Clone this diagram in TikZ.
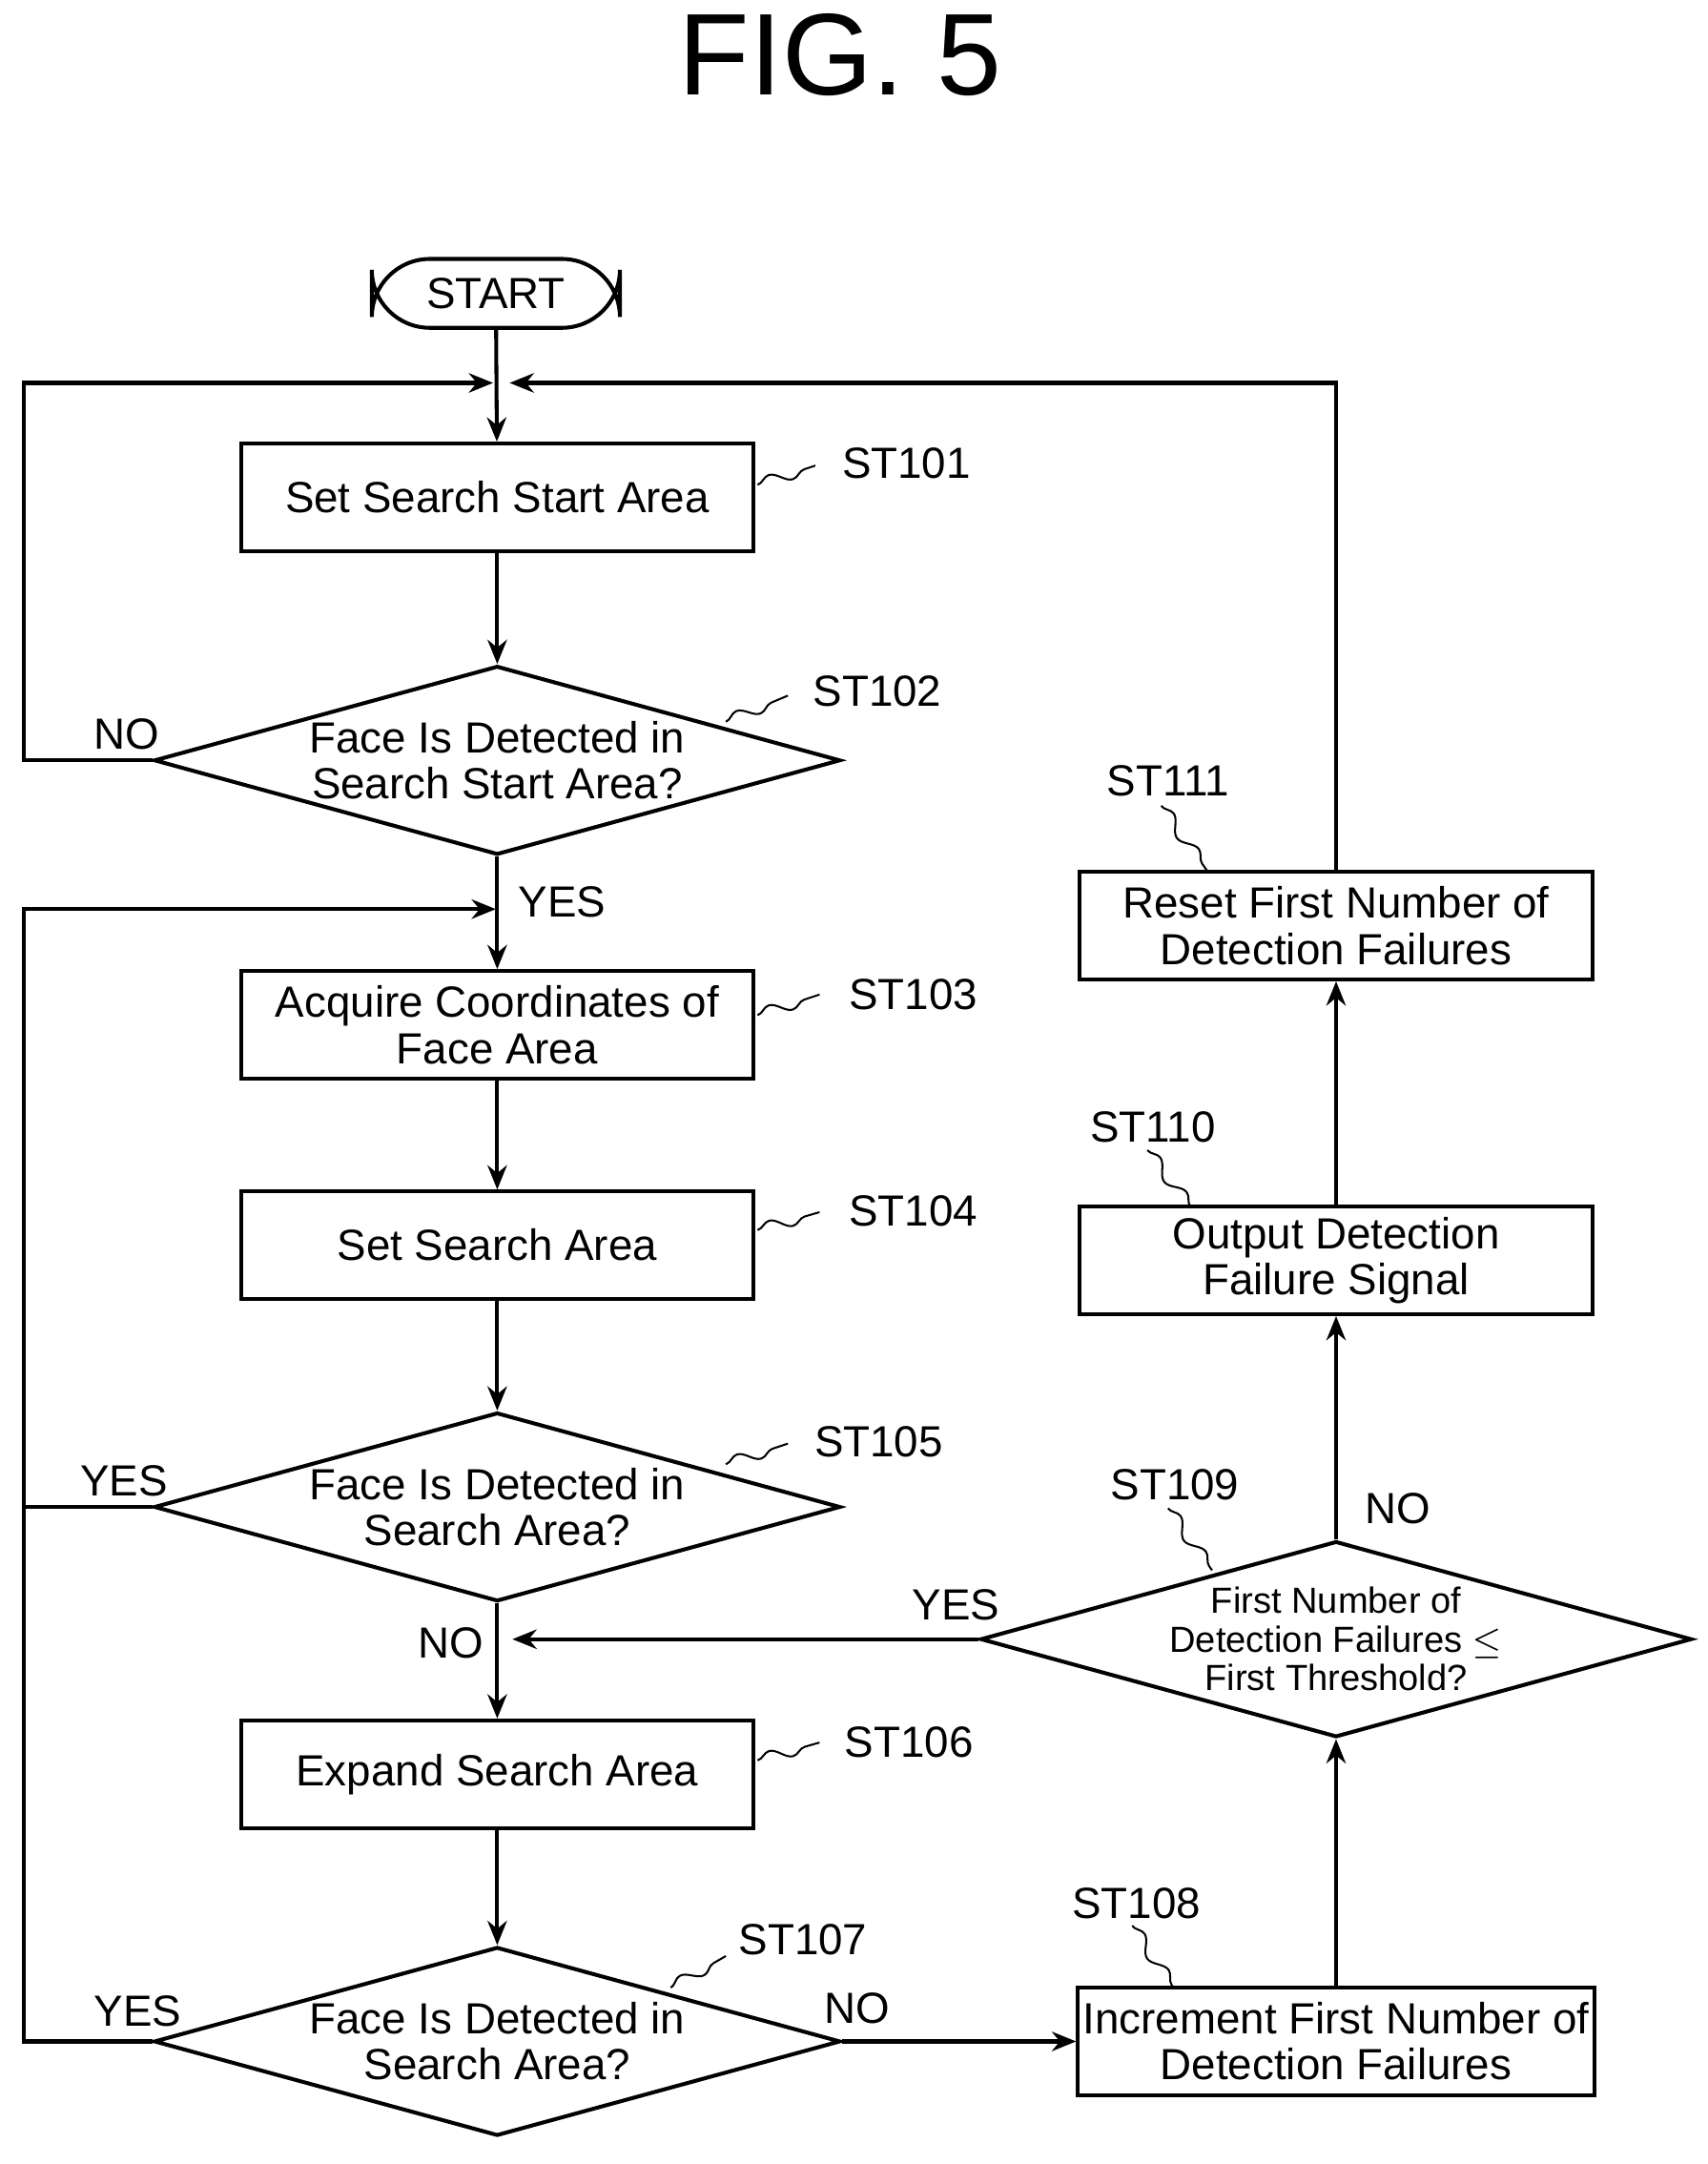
\documentclass[tikz,border=0pt]{standalone}
\usepackage{fontspec}
\setmainfont{Liberation Sans}
\usetikzlibrary{shapes.geometric, arrows.meta, decorations.pathmorphing}

\begin{document}
\begin{tikzpicture}[
  x=0.01cm, y=-0.01cm,
  box/.style={draw, thick, minimum width=3.72cm, minimum height=0.78cm, align=center, inner sep=1pt, font=\fontsize{9}{9.5}\selectfont},
  dec/.style={draw, thick, diamond, aspect=3.63, inner sep=0pt, minimum width=4.98cm, minimum height=1.37cm, align=center, font=\fontsize{9}{9.5}\selectfont},
  flow/.style={thick, -{Stealth[length=5pt,width=4pt]}},
  line/.style={thick},
  lab/.style={font=\fontsize{9}{10}\selectfont},
  squig/.style={decorate, decoration={snake, amplitude=1.2pt, segment length=9pt}}
  ]
  \useasboundingbox (0,0) rectangle (1240,1571);
  \node[font=\fontsize{24}{26}\rmfamily] (title) at (610,40) {FIG. 5};

  % main column
  \node[draw, thick, rounded corners=12pt, minimum width=1.8cm, minimum height=0.5cm, font=\fontsize{9}{9.5}\selectfont] (start) at (360,213) {START};
  \node[box] (s101) at (361,361) {Set Search Start Area};
  \node[dec] (s102) at (361,552) {Face Is Detected in\\Search Start Area?};
  \node[box] (s103) at (361,744) {Acquire Coordinates of\\Face Area};
  \node[box] (s104) at (361,904) {Set Search Area};
  \node[dec] (s105) at (361,1094) {Face Is Detected in\\Search Area?};
  \node[box] (s106) at (361,1288) {Expand Search Area};
  \node[dec] (s107) at (361,1482) {Face Is Detected in\\Search Area?};

  % right column
  \node[box] (s108) at (970,1482) {Increment First Number of\\Detection Failures};
  \node[dec, font=\fontsize{7.5}{8}\selectfont] (s109) at (970,1190) {First Number of\\Detection Failures $\leq$\\First Threshold?};
  \node[box] (s110) at (970,915) {Output Detection\\Failure Signal};
  \node[box] (s111) at (970,672) {Reset First Number of\\Detection Failures};

  \coordinate (j1) at (360,278);
  \coordinate (j2) at (360,660);
  \coordinate (j3) at (360,1190);

  \draw[flow] (start) -- (s101);
  \draw[flow] (s101) -- (s102);
  \draw[flow] (s102) -- (s103);
  \draw[flow] (s103) -- (s104);
  \draw[flow] (s104) -- (s105);
  \draw[flow] (s105) -- (s106);
  \draw[flow] (s106) -- (s107);
  \draw[flow] (s107.east) -- (s108.west);
  \draw[flow] (s108) -- (s109);
  \draw[flow] (s109) -- (s110);
  \draw[flow] (s110) -- (s111);
  \draw[flow] (s109.west) -- ([xshift=0.12cm]j3);

  % loops
  \draw[flow] (s102.west) -- (17,552) -- (17,278) -- ([xshift=-0.02cm]j1);
  \draw[flow] (s111.north) -- (970,278) -- ([xshift=0.1cm]j1);
  \draw[flow] (s105.west) -- (17,1094) -- (17,660) -- (j2);
  \draw[line] (s107.west) -- (17,1482) -- (17,1094);

  % branch labels
  \node[lab] (n102) at (92,533) {NO};
  \node[lab] (y102) at (408,655) {YES};
  \node[lab] (y105) at (90,1075) {YES};
  \node[lab] (n105) at (327,1193) {NO};
  \node[lab] (y109) at (694,1165) {YES};
  \node[lab] (n109) at (1015,1095) {NO};
  \node[lab] (y107) at (100,1460) {YES};
  \node[lab] (n107) at (622,1458) {NO};

  % step tags
  \foreach \n/\ax/\ay/\bx/\by/\tx/\ty in {
    101/550/352/592/338/658/336, 102/527/524/572/505/637/502,
    103/550/737/595/722/663/722, 104/550/893/595/880/663/879,
    105/527/1063/572/1048/638/1047, 106/550/1278/595/1265/660/1265,
    107/487/1443/527/1420/583/1408, 108/822/1398/852/1443/825/1382,
    109/848/1095/880/1140/853/1078, 110/833/835/865/877/837/818,
    111/843/585/877/633/848/567}{
    \draw[squig] (\ax,\ay) -- (\bx,\by);
    \node[lab] (t\n) at (\tx,\ty) {ST\n};
  }
\end{tikzpicture}
\end{document}
